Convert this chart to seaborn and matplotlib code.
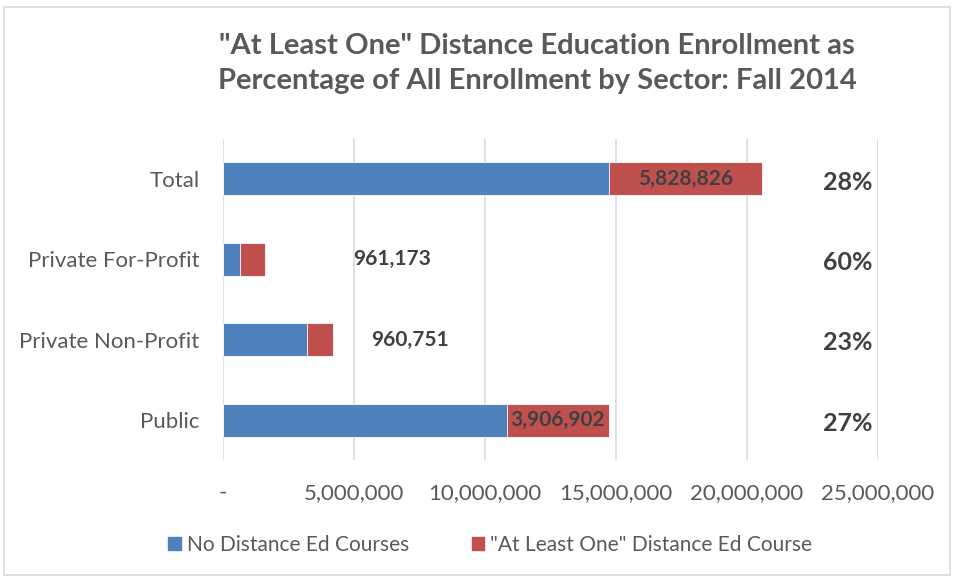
import pandas as pd
import matplotlib.pyplot as plt
import seaborn as sns
from matplotlib.patches import Rectangle

# Chart data
sectors = ['Total', 'Private For-Profit', 'Private Non-Profit', 'Public']
no_distance = [14740000, 640000, 3220000, 10830000]
at_least_one = [5828826, 961173, 960751, 3906902]
pct_labels = ['28%', '60%', '23%', '27%']
x_ticks = [0, 5000000, 10000000, 15000000, 20000000, 25000000]
x_tick_labels = ['-', '5,000,000', '10,000,000', '15,000,000', '20,000,000', '25,000,000']

blue = '#4F81BD'
red = '#C0504D'
gray = '#595959'
grid_gray = '#D9D9D9'

df = pd.DataFrame({'sector': sectors,
                   'no_distance': no_distance,
                   'at_least_one': at_least_one})
df['total'] = df['no_distance'] + df['at_least_one']

sns.set_style('white')
plt.rcParams['font.family'] = ['Lato', 'DejaVu Sans']

fig = plt.figure(figsize=(9.54, 5.78), dpi=100)
ax = fig.add_axes([0.2338, 0.2035, 0.6866, 0.5565])

# Stacked bars: full total in red, then the blue part over it
sns.barplot(data=df, x='total', y='sector', color=red, width=0.41,
            orient='h', ax=ax, edgecolor='white', linewidth=0.6, saturation=1)
sns.barplot(data=df, x='no_distance', y='sector', color=blue, width=0.41,
            orient='h', ax=ax, edgecolor='white', linewidth=0.6, saturation=1)

ax.set_xlim(0, 25000000)
ax.set_ylim(3.5, -0.5)
ax.set_xticks(x_ticks)
ax.set_xticklabels(x_tick_labels)
ax.set_xlabel('')
ax.set_ylabel('')
ax.tick_params(axis='x', length=0, pad=16, labelsize=16, labelcolor=gray)
ax.tick_params(axis='y', length=0, pad=17, labelsize=16, labelcolor=gray)
ax.grid(axis='x', color=grid_gray, linewidth=1.2)
ax.set_axisbelow(True)
for side in ['top', 'right', 'bottom', 'left']:
    ax.spines[side].set_visible(False)

# Data labels on the red segment
label_style = dict(fontsize=15, fontweight='bold', color='#404040', va='center')
for i, row in df.iterrows():
    txt = f"{row['at_least_one']:,}"
    if row['sector'] in ('Total', 'Public'):
        ax.text(row['no_distance'] + row['at_least_one'] / 2, i, txt,
                ha='center', **label_style)
    else:
        # Excel moved these labels out to the right
        offset = {'Private For-Profit': 127, 'Private Non-Profit': 77}[row['sector']]
        ax.annotate(txt, xy=(row['total'], i), xytext=(offset, 0),
                    textcoords='offset pixels', ha='center', **label_style)

# Percentage column on the right
for i, p in enumerate(pct_labels):
    ax.text(0.992, i + 0.04, p, transform=ax.get_yaxis_transform(),
            ha='right', va='center', fontsize=18, fontweight='bold', color='#404040')

fig.suptitle('"At Least One" Distance Education Enrollment as\n'
             'Percentage of All Enrollment by Sector: Fall 2014',
             x=0.563, y=0.943, fontsize=21, fontweight='bold', color=gray,
             linespacing=1.45)

handles = [Rectangle((0, 0), 1, 1, color=blue), Rectangle((0, 0), 1, 1, color=red)]
fig.legend(handles, ['No Distance Ed Courses', '"At Least One" Distance Ed Course'],
           loc='center', bbox_to_anchor=(0.514, 0.057), ncol=2, frameon=False,
           fontsize=15, labelcolor=gray, handlelength=0.6, handleheight=0.6,
           handletextpad=0.3, columnspacing=3.0)

# Light chart-area border
fig.patches.append(Rectangle((0.004, 0.006), 0.992, 0.982, transform=fig.transFigure,
                             fill=False, edgecolor=grid_gray, linewidth=1.2))

fig.savefig('out.png', dpi=100)
